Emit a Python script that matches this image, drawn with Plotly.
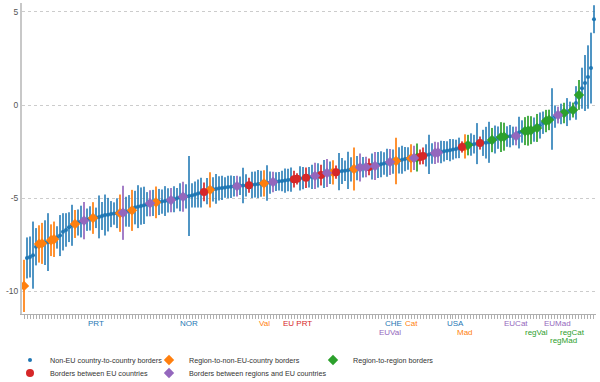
import plotly.graph_objects as go

# ---- data (sorted estimates with symmetric error half-widths) ----
values = [
    -9.70, -8.20, -8.15, -8.05, -7.60, -7.45, -7.42, -7.38, -7.35, -7.25,
    -7.20, -7.10, -7.00, -6.80, -6.70, -6.55, -6.45, -6.38, -6.30, -6.25,
    -6.20, -6.15, -6.08, -6.06, -6.05, -6.00, -5.95, -5.90, -5.88, -5.85,
    -5.82, -5.80, -5.80, -5.78, -5.72, -5.68, -5.65, -5.50, -5.45, -5.42,
    -5.38, -5.32, -5.27, -5.25, -5.22, -5.20, -5.18, -5.15, -5.12, -5.10,
    -5.05, -5.00, -4.95, -4.92, -4.90, -4.88, -4.85, -4.80, -4.75, -4.70,
    -4.66, -4.62, -4.55, -4.52, -4.50, -4.47, -4.45, -4.42, -4.40, -4.38,
    -4.36, -4.35, -4.33, -4.32, -4.31, -4.30, -4.28, -4.26, -4.24, -4.22,
    -4.20, -4.18, -4.16, -4.13, -4.11, -4.09, -4.07, -4.05, -4.02, -4.00,
    -3.98, -3.96, -3.94, -3.92, -3.90, -3.88, -3.85, -3.80, -3.78, -3.76,
    -3.70, -3.65, -3.63, -3.61, -3.60, -3.57, -3.54, -3.52, -3.50, -3.45,
    -3.43, -3.38, -3.35, -3.34, -3.33, -3.32, -3.30, -3.27, -3.22, -3.18,
    -3.14, -3.10, -3.06, -3.03, -3.00, -2.97, -2.93, -2.90, -2.87, -2.86,
    -2.84, -2.82, -2.79, -2.73, -2.70, -2.65, -2.60, -2.57, -2.55, -2.52,
    -2.48, -2.45, -2.42, -2.38, -2.36, -2.30, -2.25, -2.22, -2.15, -2.12,
    -2.10, -2.07, -2.04, -2.03, -2.02, -2.00, -1.88, -1.85, -1.75, -1.72,
    -1.70, -1.69, -1.67, -1.66, -1.66, -1.48, -1.42, -1.40, -1.38, -1.35,
    -1.32, -1.23, -1.10, -0.95, -0.86, -0.80, -0.75, -0.62, -0.54, -0.48,
    -0.43, -0.38, -0.32, -0.27, 0.11, 0.54, 0.90, 1.18, 1.50, 1.98,
    4.60,
]

errors = [
    1.40, 1.10, 1.10, 1.80, 1.00, 1.00, 1.10, 1.20, 1.55, 0.85,
    0.95, 0.60, 1.10, 1.00, 0.90, 0.80, 1.10, 0.75, 0.70, 0.85,
    1.00, 0.60, 0.65, 0.85, 0.55, 1.15, 0.75, 1.10, 0.90, 0.70,
    0.60, 0.80, 1.00, 1.45, 0.80, 0.85, 1.10, 0.90, 1.15, 1.00,
    1.00, 0.65, 0.70, 0.70, 0.85, 0.70, 0.65, 0.80, 0.65, 0.65,
    0.70, 0.55, 0.75, 0.80, 0.65, 2.15, 0.65, 0.70, 0.75, 0.80,
    0.50, 0.70, 0.95, 0.65, 0.80, 0.65, 0.65, 0.55, 0.60, 0.60,
    0.55, 0.55, 0.50, 0.95, 0.60, 0.40, 0.70, 0.70, 0.75, 0.70,
    0.70, 0.95, 0.60, 0.55, 0.50, 0.50, 0.55, 0.65, 0.60, 0.65,
    0.45, 0.30, 0.65, 0.60, 0.55, 0.55, 0.65, 0.70, 0.65, 0.55,
    0.75, 0.75, 0.60, 0.65, 0.35, 1.00, 0.70, 0.55, 1.00, 0.65,
    1.15, 0.65, 0.75, 0.55, 0.55, 0.45, 0.70, 0.75, 0.70, 0.70,
    0.60, 0.75, 0.70, 0.65, 1.25, 0.70, 0.75, 0.65, 0.60, 0.75,
    0.65, 0.75, 0.40, 0.45, 0.60, 1.05, 0.55, 0.60, 0.55, 0.60,
    0.55, 0.50, 0.60, 0.55, 0.50, 0.55, 0.30, 0.65, 0.55, 0.60,
    0.50, 1.10, 0.35, 0.70, 0.85, 1.10, 0.65, 0.75, 0.60, 0.80,
    0.75, 0.55, 0.60, 0.50, 0.50, 0.85, 0.60, 0.75, 0.80, 0.75,
    0.65, 0.75, 0.70, 0.60, 0.60, 0.55, 1.65, 0.60, 0.45, 0.55,
    0.55, 0.75, 0.50, 0.40, 0.90, 0.80, 1.10, 1.50, 1.70, 1.90,
    0.75,
]

# N = non-EU country-to-country, R = region-to-non-EU-country, G = region-to-region,
# E = between EU countries, P = between regions and EU countries
categories = list(
    "RNNNNRRNNR"
    "RNNNNNNRNN"
    "PNNRNNNNNN"
    "NNRPNNRNNN"
    "NNPNRNNNNP"
    "NNNPNNNNNN"
    "ENRNNNNNNN"
    "NPNNNENNNN"
    "RNNPNNNNNN"
    "EENNENNPNE"
    "NPNRENNNNN"
    "RNPNPENPNN"
    "NNPNRNNNNR"
    "PGEENNNPPN"
    "NNNNNNERGN"
    "NNENNNGNNG"
    "GNNNPNNGGG"
    "NGNNGGNNPN"
    "GNNGNGNNNN"
    "N"
)

label_index = [24, 55, 80, 91, 123, 122, 129, 144, 147, 164, 171, 178, 183, 180]
label_text = ["PRT", "NOR", "Val", "EU PRT", "CHE", "EUVal", "Cat", "USA", "Mad",
              "EUCat", "regVal", "EUMad", "regCat", "regMad"]
label_row = [1, 1, 1, 1, 1, 2, 1, 1, 2, 1, 2, 1, 2, 3]

y_ticks = [5, 0, -5, -10]

series_names = {
    "N": "Non-EU country-to-country borders",
    "R": "Region-to-non-EU-country borders",
    "G": "Region-to-region borders",
    "E": "Borders between EU countries",
    "P": "Borders between regions and EU countries",
}

# ---- styling ----
FONT = "Liberation Sans, Arial"
colors = {"N": "#1f77b4", "R": "#ff7f0e", "G": "#2ca02c", "E": "#d62728", "P": "#9467bd"}
bar_colors = {"N": "rgba(31,119,180,0.78)", "R": "rgba(255,127,14,0.85)",
              "G": "rgba(44,160,44,0.85)", "E": "rgba(214,39,40,0.85)",
              "P": "rgba(148,103,189,0.85)"}
symbols = {"N": "circle", "R": "diamond", "G": "diamond", "E": "circle", "P": "diamond"}
sizes = {"N": 4, "R": 8, "G": 8, "E": 8, "P": 8}
legend_ids = {"N": "legend", "E": "legend2", "R": "legend3", "P": "legend4", "G": "legend5"}

fig = go.Figure()
for c in ["N", "R", "G", "E", "P"]:
    idx = [i for i, k in enumerate(categories) if k == c]
    fig.add_trace(go.Scatter(
        x=idx, y=[values[i] for i in idx], mode="markers",
        name=series_names[c], legend=legend_ids[c],
        marker=dict(color=colors[c], size=sizes[c], symbol=symbols[c], line=dict(width=0)),
        error_y=dict(type="data", array=[errors[i] for i in idx], symmetric=True,
                     color=bar_colors[c], thickness=2, width=0),
    ))

TOP, BOTTOM = 3, 314
H = BOTTOM - TOP
def py(pix):
    return (BOTTOM - pix) / H

row_pix = {1: 324, 2: 332, 3: 340}
for i, t, r in zip(label_index, label_text, label_row):
    fig.add_annotation(x=i, y=py(row_pix[r]), xref="x", yref="paper", text=t,
                       showarrow=False, xanchor="center", yanchor="middle",
                       font=dict(size=8, color=colors[categories[i]], family=FONT))

L0, W = 22, 574
def px(pix):
    return (pix - L0) / W

leg_font = dict(size=7.2, color="#333", family=FONT)
leg_common = dict(orientation="v", xanchor="left", yanchor="middle", font=leg_font,
                  bgcolor="rgba(0,0,0,0)", borderwidth=0, itemwidth=30)

fig.update_layout(
    width=600, height=382,
    margin=dict(l=L0, r=600 - L0 - W, t=TOP, b=382 - BOTTOM, autoexpand=False),
    paper_bgcolor="white", plot_bgcolor="white",
    showlegend=True,
    legend=dict(x=px(10), y=py(360), **leg_common),
    legend2=dict(x=px(10), y=py(373), **leg_common),
    legend3=dict(x=px(149), y=py(360), **leg_common),
    legend4=dict(x=px(149), y=py(373), **leg_common),
    legend5=dict(x=px(313), y=py(360), **leg_common),
    xaxis=dict(range=[-0.67, 190.67], showgrid=False, zeroline=False,
               showline=True, linecolor="#b0b0b0", linewidth=1,
               tickmode="array", tickvals=list(range(len(values))),
               ticks="outside", ticklen=4, tickcolor="#b0b0b0", tickwidth=1,
               showticklabels=False, automargin=False),
    yaxis=dict(range=[(105 - BOTTOM) / 18.65, (105 - TOP) / 18.65],
               tickmode="array", tickvals=y_ticks, ticktext=[str(v) for v in y_ticks],
               showgrid=True, gridcolor="#cccccc", griddash="dot", gridwidth=1,
               zeroline=False, showline=True, linecolor="#c8c8c8", linewidth=2,
               ticks="", automargin=False,
               tickfont=dict(size=8.5, color="#555", family=FONT)),
)

fig.write_html("out.html", config={"displayModeBar": False},
               post_script="document.body.style.margin='0';document.body.style.padding='0';")
